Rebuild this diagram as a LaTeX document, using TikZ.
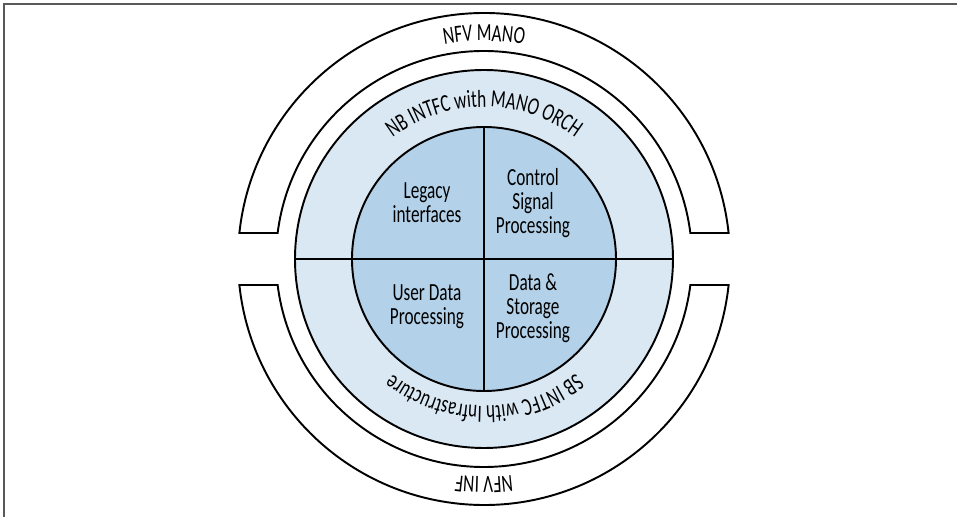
\documentclass[tikz,border=0pt]{standalone}
\usepackage{fontspec}
\setmainfont{Carlito}[FakeStretch=0.7]
\usetikzlibrary{decorations.text}
\definecolor{corefill}{RGB}{179,210,233}
\definecolor{bandfill}{RGB}{218,232,243}
\newcommand{\ringfont}{\fontsize{14pt}{13.6pt}\selectfont}

\begin{document}
\begin{tikzpicture}[x=0.02cm, y=0.02cm, line width=1.1pt,
    quad/.style={align=center, font=\ringfont, inner sep=0pt},
    arclabel/.style={decorate, decoration={text along path, text align=center, text={|\ringfont|#1}}}]
    \useasboundingbox (-484,-258) rectangle (473,259);
    \draw[gray!70!black, line width=0.7pt] (-480,-258) -- (-480,255) -- (473,255);
    \coordinate (c) at (0,0);

    \draw (6.07:246) arc[start angle=6.07, end angle=173.93, radius=246] -- (172.82:208) arc[start angle=172.82, end angle=7.18, radius=208] -- cycle;
    \draw (-6.07:246) arc[start angle=-6.07, end angle=-173.93, radius=246] -- (-172.82:208) arc[start angle=-172.82, end angle=-7.18, radius=208] -- cycle;
    \draw[fill=bandfill] (c) circle[radius=189];
    \draw[fill=corefill] (c) circle[radius=132];
    \draw (c) ++(-189,0) -- ++(378,0);
    \draw (c) ++(0,-132) -- ++(0,264);

    \node[quad] (legacy) at (-57,56) {Legacy\\interfaces};
    \node[quad] (control) at (49,56) {Control\\Signal\\Processing};
    \node[quad] (userdata) at (-57,-48) {User Data\\Processing};
    \node[quad] (storage) at (49,-49) {Data \&\\Storage\\Processing};

    \path[arclabel={NFV MANO}] (150:218) arc[start angle=150, end angle=30, radius=218];
    \path[arclabel={NFV INF}] (-30:218) arc[start angle=-30, end angle=-150, radius=218];
    \path[arclabel={NB INTFC with MANO ORCH}] (150:152) arc[start angle=150, end angle=30, radius=152];
    \path[arclabel={SB INTFC with Infrastructure}] (-30:147) arc[start angle=-30, end angle=-150, radius=147];
\end{tikzpicture}
\end{document}
